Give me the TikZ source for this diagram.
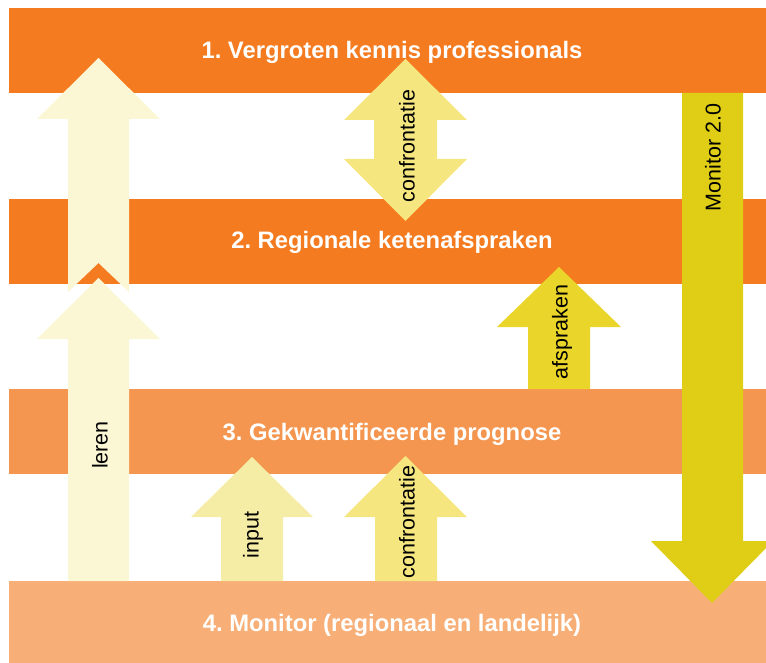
\documentclass[tikz,border=0pt]{standalone}
\usepackage{fontspec}
\setmainfont{Liberation Sans}
\usetikzlibrary{calc}

\definecolor{bandDark}{HTML}{F47B20}
\definecolor{bandMid}{HTML}{F4964F}
\definecolor{bandLight}{HTML}{F7AF77}
\definecolor{cream}{HTML}{FBF6D4}
\definecolor{paleYellow}{HTML}{F5E680}
\definecolor{softYellow}{HTML}{F5ECA5}
\definecolor{brightYellow}{HTML}{EAD62A}
\definecolor{darkYellow}{HTML}{E0CE16}

\frenchspacing

\begin{document}
\begin{tikzpicture}[x=1pt,y=-1pt,
  bandtext/.style={text=white, anchor=base, font=\fontsize{23.8}{24}\selectfont\bfseries},
  arrowtext/.style={font=\fontsize{21.5}{21.5}\selectfont, inner sep=0pt}]

% Define dimensions
\def\l{9}     % left edge of bands
\def\r{775}   % right edge of bands

% Canvas
\path[use as bounding box, clip] (0,0) rectangle (766,663);

% Draw bands
\fill[bandDark] (\l,8) rectangle (\r,93);
\fill[bandDark] (\l,199) rectangle (\r,284);
\fill[bandMid] (\l,389) rectangle (\r,474);
\fill[bandLight] (\l,581) rectangle (\r,663);

% Draw leren arrow (lower part)
\fill[cream] (68,581) -- (68,339) -- (37,339) -- (98.5,278) -- (160,339) -- (129,339) -- (129,581) -- cycle;

% Draw leren arrow (upper part, notched tail)
\fill[cream] (68,292) -- (68,119) -- (37,119) -- (98.5,58) -- (160,119) -- (129,119) -- (129,292) -- (98.5,263) -- cycle;

% Draw confrontatie double arrow
\fill[paleYellow] (405.5,59) -- (467,120) -- (437,120) -- (437,159) -- (467,159) -- (405.5,221)
  -- (344,159) -- (374,159) -- (374,120) -- (344,120) -- cycle;

% Draw afspraken arrow
\fill[brightYellow] (528,389) -- (528,327) -- (497,327) -- (559,267) -- (621,327) -- (590,327) -- (590,389) -- cycle;

% Draw input arrow
\fill[softYellow] (221,581) -- (221,517) -- (191,517) -- (252,457) -- (313,517) -- (283,517) -- (283,581) -- cycle;

% Draw confrontatie arrow (lower)
\fill[paleYellow] (375,581) -- (375,517) -- (344,517) -- (405.5,456) -- (467,517) -- (437,517) -- (437,581) -- cycle;

% Draw Monitor 2.0 arrow
\fill[darkYellow] (682,93) -- (682,541) -- (651,541) -- (712,603) -- (773,541) -- (743,541) -- (743,93) -- cycle;

% Labels for bands
\node[bandtext] (kennis) at (392,58.3) {1. Vergroten kennis professionals};
\node[bandtext] (keten) at (392,249) {2. Regionale ketenafspraken};
\node[bandtext] (prognose) at (392,440.7) {3. Gekwantificeerde prognose};
\node[bandtext] (monitor) at (392,631) {4. Monitor (regionaal en landelijk)};

% Labels on arrows
\node[arrowtext, rotate=90] (leren) at (100,445) {leren};
\node[arrowtext, rotate=90] (confrontA) at (407,146) {confrontatie};
\node[arrowtext, rotate=90] (afspraken) at (562,332) {afspraken};
\node[arrowtext, rotate=90] (input) at (253,535) {input};
\node[arrowtext, rotate=90] (confrontB) at (407,522) {confrontatie};
\node[arrowtext, rotate=90] (monitor2) at (713,157.5) {Monitor 2.0};

\end{tikzpicture}
\end{document}
